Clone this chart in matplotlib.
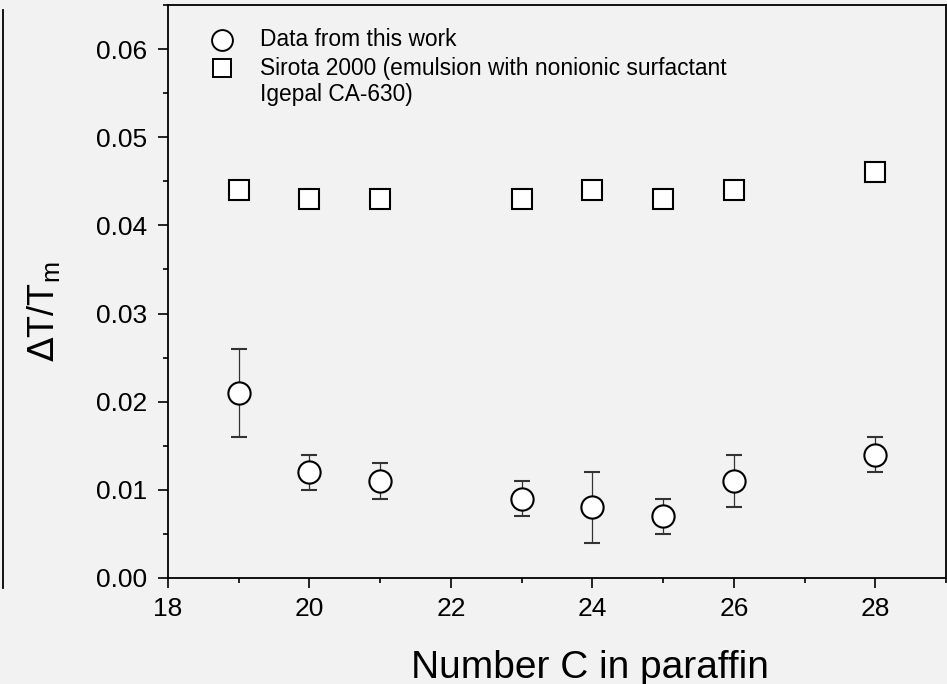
import matplotlib.pyplot as plt
from matplotlib.lines import Line2D
from matplotlib.ticker import MultipleLocator

plt.rcParams['font.family'] = ['Liberation Sans', 'DejaVu Sans']

# carbon number of the paraffin
n_this = [19, 20, 21, 23, 24, 25, 26, 28]
dt_this = [0.021, 0.012, 0.011, 0.009, 0.008, 0.007, 0.011, 0.014]
err_this = [0.005, 0.002, 0.002, 0.002, 0.004, 0.002, 0.003, 0.002]

n_sirota = [19, 20, 21, 23, 24, 25, 26, 28]
dt_sirota = [0.044, 0.043, 0.043, 0.043, 0.044, 0.043, 0.044, 0.046]

bg = '#f2f2f2'
fig = plt.figure(figsize=(9.47, 6.84), dpi=100, facecolor=bg)
ax = fig.add_axes([0.1774, 0.155, 0.8216, 0.8377], facecolor=bg)

ax.errorbar(n_this, dt_this, yerr=err_this, fmt='o', ms=16, mfc='white', mec='black',
            mew=1.5, ecolor='#333333', elinewidth=0.9, capsize=6, capthick=0.9, zorder=3)
ax.plot(n_sirota, dt_sirota, 's', ms=14.5, mfc='white', mec='black', mew=1.5, zorder=3)

ax.set_xlim(18, 29)
ax.set_ylim(0, 0.065)
ax.xaxis.set_major_locator(MultipleLocator(2))
ax.xaxis.set_minor_locator(MultipleLocator(1))
ax.yaxis.set_major_locator(MultipleLocator(0.01))
ax.yaxis.set_minor_locator(MultipleLocator(0.005))
ax.yaxis.set_major_formatter(plt.FormatStrFormatter('%.2f'))
ax.tick_params(which='major', direction='out', length=7, width=1.2, labelsize=19)
ax.tick_params(which='minor', direction='out', length=3.5, width=1.2)
ax.tick_params(axis='y', which='major', pad=8)
ax.tick_params(axis='x', which='major', pad=7)
for s in ax.spines.values():
    s.set_linewidth(1.3)

ax.set_xlabel('Number C in paraffin', fontsize=28)
ax.xaxis.set_label_coords(0.5424, -0.125)
ax.xaxis.label.set_va('top')
ax.set_ylabel(r'$\Delta$T/T$_\mathregular{m}$', fontsize=26, va='center')
ax.yaxis.set_label_coords(-0.16, 0.465)

# key
ax.plot([0.069], [0.939], 'o', ms=15, mfc='white', mec='black', mew=1.4, transform=ax.transAxes, clip_on=False)
ax.plot([0.069], [0.890], 's', ms=13.5, mfc='white', mec='black', mew=1.4, transform=ax.transAxes, clip_on=False)
ax.text(0.118, 0.939, 'Data from this work', fontsize=16.4, va='center', transform=ax.transAxes)
ax.text(0.118, 0.890, 'Sirota 2000 (emulsion with nonionic surfactant', fontsize=16.4, va='center', transform=ax.transAxes)
ax.text(0.118, 0.843, 'Igepal CA-630)', fontsize=16.4, va='center', transform=ax.transAxes)

# edge of the neighbouring panel
fig.add_artist(Line2D([3 / 947, 3 / 947], [1 - 10 / 684, 1 - 588 / 684], color='black', lw=1.3))

fig.savefig('out.png', dpi=100, facecolor=bg)
